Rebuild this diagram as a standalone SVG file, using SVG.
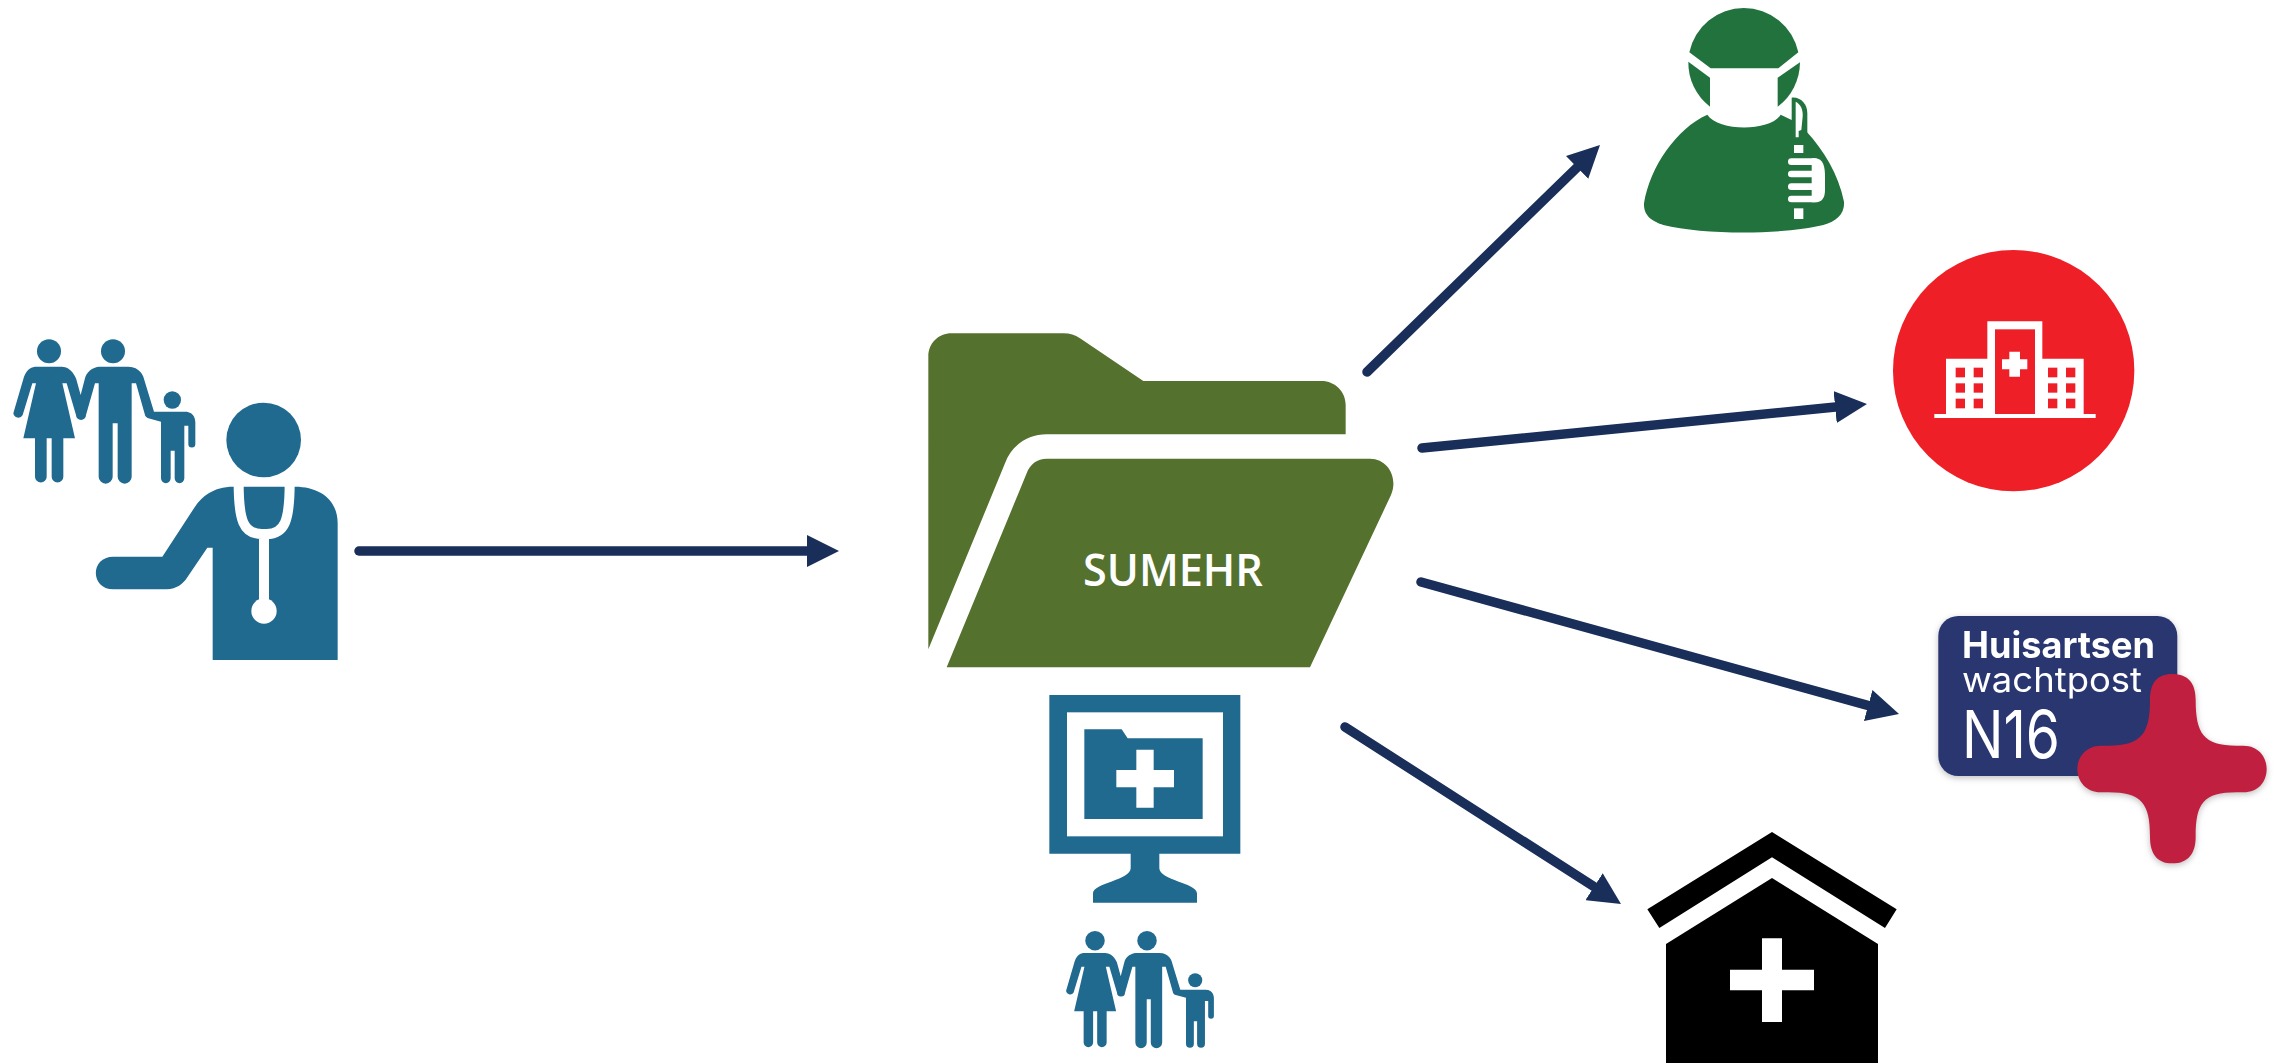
<svg xmlns="http://www.w3.org/2000/svg" xmlns:xlink="http://www.w3.org/1999/xlink" width="2280" height="1063" viewBox="0 0 2280 1063">
<style>
.blue{fill:#206a90}
.white{fill:#fff}
.conn{stroke:#1a2e5a;stroke-width:9.500;stroke-linecap:round;fill:none;marker-end:url(#head)}
.steth{stroke:#fff;stroke-width:30;fill:none}
</style>
<defs>
<marker id="head" viewBox="0 0 32 32" refX="8" refY="16" markerWidth="32" markerHeight="32" orient="auto" markerUnits="userSpaceOnUse"><path d="M0,0L32,16L0,32Z" fill="#1a2e5a"/></marker>
<g id="familyShape" class="blue">
<circle cx="147" cy="94" r="36"/><circle cx="339" cy="94" r="36"/><circle cx="517" cy="240" r="26"/>
<path d="M110,140H185C215,140 228,175 228,175L242,225L255,175C265,140 300,140 300,140H385C420,140 430,170 430,170L462,275H555C586,275 586,305 586,305V372A10.500,10.500 0 0 1 565,372V317H553V475A14.500,14.500 0 0 1 524,475V392H512V475A14.500,14.500 0 0 1 483,475V305L445,295C435,290 435,285 435,285L408,190H395V470A21,21 0 0 1 353,470V310H338V470A21,21 0 0 1 296,470V190H285L258,285A15,15 0 0 1 228,285L200,190H187L225,355H190V470A17.500,17.500 0 0 1 155,470V355H140V470A17.500,17.500 0 0 1 105,470V355H70L108,190H97L68,285A15,15 0 0 1 40,280L72,170C82,145 95,140 110,140Z"/>
</g>
</defs>
<rect width="2280" height="1063" fill="#fff"/>

<g id="connectors">
<line class="conn" x1="359" y1="551" x2="815" y2="551"/>
<line class="conn" x1="1367" y1="372" x2="1582.800" y2="161.800"/>
<line class="conn" x1="1422" y1="448" x2="1843.100" y2="406.300"/>
<line class="conn" x1="1421" y1="582" x2="1875.900" y2="707.600"/>
<line class="conn" x1="1345" y1="727" x2="1600.800" y2="891"/>
</g>

<g id="family-doctor" transform="translate(0,320) scale(.33333)">
<use href="#familyShape"/>
</g>

<g id="doctor" transform="translate(0,320) scale(.33333)">
<circle class="blue" cx="791" cy="360" r="112"/>
<path class="blue" d="M700,500C640,500 605,530 585,560L487,710H340C270,710 270,808 340,808H500C530,808 550,790 560,775L622,683H638V1020H1013V610C1013,540 960,500 885,500Z"/>
<path class="steth" d="M716,490C716,600 730,642 785,642H800C855,642 869,600 869,490M792,642V870"/>
<circle class="white" cx="792" cy="873" r="38"/>
</g>

<g id="folder" transform="translate(900,310) scale(.33333)">
<path fill="#55712e" d="M85,140C85,100 115,70 155,70H490C510,70 525,75 540,85L730,213H1265C1305,213 1337,245 1337,285V373H440C385,373 335,405 315,460L85,1018Z"/>
<path fill="#55712e" d="M440,446H1410C1465,446 1495,505 1473,555L1230,1072H140L380,490C390,462 412,446 440,446Z"/>
</g>
<text id="folder-label" x="1173" y="586" text-anchor="middle" font-family="'Open Sans',sans-serif" font-weight="600" font-size="46" fill="#fff" textLength="180" lengthAdjust="spacingAndGlyphs">SUMEHR</text>

<g id="monitor" transform="translate(1020,680) scale(.33333)">
<path class="blue" d="M88,45H661V521H418V565C418,600 531,610 531,640V668H219V640C219,610 332,600 332,565V521H88Z"/>
<rect class="white" x="141" y="97" width="468" height="372"/>
<path class="blue" d="M193,148H305L323,175H548V417H193Z"/>
<path class="white" d="M349,209H401V270H462V322H401V383H349V322H289V270H349Z"/>
</g>

<g id="family-patient" transform="translate(1055.200,915.200) scale(.2708)">
<use href="#familyShape"/>
</g>

<g id="surgeon" transform="translate(1620,0) scale(.33333)" fill="#22723e">
<path d="M208,157A167,167 0 0 1 535,157L475,205H272Z"/>
<path d="M205,185L270,233V320A167,167 0 0 1 205,185Z"/>
<path d="M540,187L473,233V320A167,167 0 0 0 540,187Z"/>
<path d="M262,344C295,395 450,395 482,344L515,360L560,395C610,450 655,520 672,605C675,640 650,665 610,675C490,705 250,705 130,675C100,665 70,650 72,610C90,500 170,385 262,344Z"/>
<path d="M515,293C540,290 562,310 562,340V400L530,425H515Z"/>
<path class="white" d="M527,305C542,312 550,330 548,350L544,390L536,393V412H527Z"/>
<rect class="white" x="522" y="435" width="28" height="24"/>
<rect class="white" x="522" y="625" width="28" height="32"/>
<path stroke="#fff" stroke-width="20" stroke-linecap="round" fill="none" d="M514,485H585M514,522H585M514,560H585M514,597H585"/>
<path class="white" d="M575,475H585C610,475 615,500 615,530V570C615,595 605,607 585,607H575Z"/>
</g>

<g id="hospital" transform="translate(1880,240) scale(.33333)">
<circle cx="401" cy="392" r="362" fill="#ee1f27"/>
<path class="white" d="M322,244H487V356H611V522H647V534H163V522H198V356H322Z"/>
<g fill="#ee1f27">
<rect x="345" y="268" width="120" height="254"/>
<rect x="227" y="383" width="28" height="29"/><rect x="281" y="383" width="28" height="29"/>
<rect x="227" y="430" width="28" height="28"/><rect x="281" y="430" width="28" height="28"/>
<rect x="227" y="476" width="28" height="29"/><rect x="281" y="476" width="28" height="29"/>
<rect x="504" y="383" width="28" height="29"/><rect x="558" y="383" width="28" height="29"/>
<rect x="504" y="430" width="28" height="28"/><rect x="558" y="430" width="28" height="28"/>
<rect x="504" y="476" width="28" height="29"/><rect x="558" y="476" width="28" height="29"/>
</g>
<path class="white" d="M388,335H420V358H442V388H420V410H388V388H366V358H388Z"/>
</g>

<g id="wachtpost" style="filter:drop-shadow(0 2px 3px rgba(0,0,0,.25))">
<rect x="1938.300" y="616" width="239" height="160" rx="20" fill="#29366f"/>
<text x="1962" y="658" font-family="Inter,sans-serif" font-weight="700" font-size="37" fill="#fff" textLength="193" lengthAdjust="spacingAndGlyphs">Huisartsen</text>
<text x="1962" y="692" font-family="Inter,sans-serif" font-weight="400" font-size="34" fill="#fff" textLength="180" lengthAdjust="spacingAndGlyphs">wachtpost</text>
<text x="1962" y="758" font-family="Inter,sans-serif" font-weight="400" font-size="66" fill="#fff" textLength="98" lengthAdjust="spacingAndGlyphs">N16</text>
<path fill="#c11f3f" transform="translate(1920,600) scale(.33333)" d="M757,222C805,222 827,250 827,300C827,400 850,437 950,437H970C1015,437 1040,470 1040,507C1040,545 1015,577 970,577H950C850,577 827,610 827,710C827,760 805,790 757,790C710,790 690,760 690,710C690,610 665,577 565,577H542C500,577 472,545 472,507C472,470 500,437 542,437H565C665,437 690,400 690,300C690,250 710,222 757,222Z"/>
</g>

<g id="house" transform="translate(1640,820) scale(.33333)">
<path d="M396,36L770,268L735,324L396,112L58,324L22,268Z"/>
<path d="M396,174L714,372V729H78V372Z"/>
<path class="white" d="M366,355H426V449H522V511H426V606H366V511H270V449H366Z"/>
</g>
</svg>
